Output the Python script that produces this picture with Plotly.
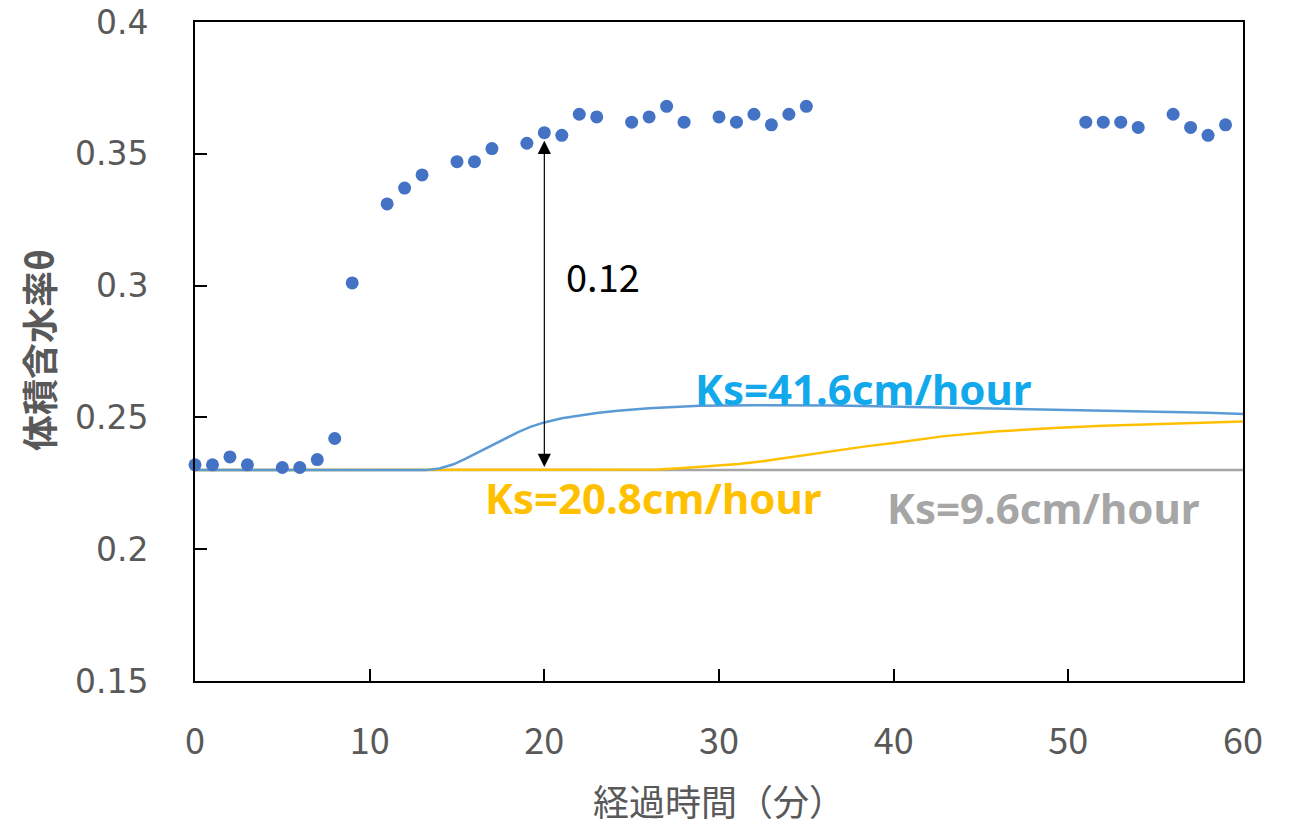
import plotly.graph_objects as go

# Measured data (volumetric water content)
obs_t = [0, 1, 2, 3, 5, 6, 7, 8, 9, 11, 12, 13, 15, 16, 17, 19, 20, 21, 22, 23,
         25, 26, 27, 28, 30, 31, 32, 33, 34, 35, 51, 52, 53, 54, 56, 57, 58, 59]
obs_v = [0.232, 0.232, 0.235, 0.232, 0.231, 0.231, 0.234, 0.242, 0.301, 0.331,
         0.337, 0.342, 0.347, 0.347, 0.352, 0.354, 0.358, 0.357, 0.365, 0.364,
         0.362, 0.364, 0.368, 0.362, 0.364, 0.362, 0.365, 0.361, 0.365, 0.368,
         0.362, 0.362, 0.362, 0.360, 0.365, 0.360, 0.357, 0.361]

# Simulated curves
ks96_t = [0, 60]
ks96_v = [0.23, 0.23]

ks208_t = [0, 25.0, 26.5, 28, 29.5, 31.1, 32.5, 34, 35.5, 36.7, 38.5, 40, 42.9,
           46, 49.2, 52, 55.4, 58, 60]
ks208_v = [0.23, 0.23, 0.2302, 0.2308, 0.2315, 0.2323, 0.2334, 0.2348, 0.2363,
           0.2376, 0.2391, 0.2403, 0.2429, 0.2447, 0.246, 0.2468, 0.2475, 0.248,
           0.2484]

ks416_t = [0, 13.2, 14.0, 14.8, 15.5, 16.2, 17, 17.8, 18.5, 19.2, 20, 21, 22,
           23, 24.2, 26, 28.9, 32, 36.7, 40, 42.9, 46, 49.2, 52, 55.4, 58, 60]
ks416_v = [0.23, 0.23, 0.2306, 0.2322, 0.2344, 0.2368, 0.2395, 0.2422, 0.2444,
           0.2464, 0.2481, 0.2497, 0.2508, 0.2517, 0.2525, 0.2535, 0.2544, 0.2546,
           0.2545, 0.2541, 0.2535, 0.2531, 0.2528, 0.2525, 0.2521, 0.2518, 0.2513]

x_ticks = [0, 10, 20, 30, 40, 50, 60]
y_ticks = [0.15, 0.2, 0.25, 0.3, 0.35, 0.4]

W, H = 1294, 825
L, R, T, B = 195, 51, 22, 144
pw, ph = W - L - R, H - T - B


def px_to_paper(px, py):
    # target-picture pixel -> paper coords
    return (px - L) / pw, (H - B - py) / ph


fig = go.Figure()
fig.add_trace(go.Scatter(x=ks96_t, y=ks96_v, mode="lines",
                         line=dict(color="#A5A5A5", width=2.5), name="Ks=9.6"))
fig.add_trace(go.Scatter(x=ks208_t, y=ks208_v, mode="lines",
                         line=dict(color="#FFC000", width=2.5), name="Ks=20.8"))
fig.add_trace(go.Scatter(x=ks416_t, y=ks416_v, mode="lines",
                         line=dict(color="#5B9BD5", width=2.5), name="Ks=41.6"))
fig.add_trace(go.Scatter(x=obs_t, y=obs_v, mode="markers",
                         marker=dict(color="#4472C4", size=13), name="obs",
                         cliponaxis=False))

# Double-headed arrow
fig.add_annotation(x=20, y=0.2312, ax=20, ay=0.3555, xref="x", yref="y",
                   axref="x", ayref="y", showarrow=True, arrowhead=2,
                   arrowside="end+start", arrowsize=2.2, arrowwidth=1.2,
                   arrowcolor="black", text="")
fig.add_annotation(x=23.35, y=0.304, xref="x", yref="y", text="0.12",
                   showarrow=False,
                   font=dict(family="Noto Sans CJK JP", size=38, color="black"))

fig.add_annotation(x=28.5, y=0.2611, xref="x", yref="y", xanchor="left",
                   text="<b>Ks=41.6cm/hour</b>", showarrow=False,
                   font=dict(family="Noto Sans", size=42, color="#12A8EC"))
fig.add_annotation(x=16.5, y=0.2198, xref="x", yref="y", xanchor="left",
                   text="<b>Ks=20.8cm/hour</b>", showarrow=False,
                   font=dict(family="Noto Sans", size=42, color="#FFC000"))
fig.add_annotation(x=39.5, y=0.216, xref="x", yref="y", xanchor="left",
                   text="<b>Ks=9.6cm/hour</b>", showarrow=False,
                   font=dict(family="Noto Sans", size=42, color="#A6A6A6"))

# Axis titles
tx, ty = px_to_paper(719, 800)
fig.add_annotation(x=tx, y=ty, xref="paper", yref="paper", xanchor="center",
                   yanchor="middle", text="経過時間（分）", showarrow=False,
                   font=dict(family="Noto Sans CJK JP", size=36, color="#595959"))
tx, ty = px_to_paper(38, 350)
fig.add_annotation(x=tx, y=ty, xref="paper", yref="paper", xanchor="center",
                   yanchor="middle", text="<b>体積含水率θ</b>", textangle=-90,
                   showarrow=False,
                   font=dict(family="Noto Sans CJK JP", size=36, color="#595959"))

fig.update_layout(
    width=W, height=H, margin=dict(l=L, r=R, t=T, b=B, autoexpand=False),
    plot_bgcolor="white", paper_bgcolor="white", showlegend=False,
    xaxis=dict(range=[0, 60], tickvals=x_ticks, showgrid=False, zeroline=False,
               showline=True, mirror=True, linecolor="black", linewidth=2,
               ticks="inside", ticklen=12, tickcolor="black", tickwidth=1.5,
               ticklabelstandoff=28, automargin=False, ticklabeloverflow="allow",
               tickfont=dict(family="Noto Sans CJK JP", size=36, color="#595959")),
    yaxis=dict(range=[0.15, 0.4], tickvals=y_ticks, showgrid=False, zeroline=False,
               showline=True, mirror=True, linecolor="black", linewidth=2,
               ticks="inside", ticklen=12, tickcolor="black", tickwidth=1.5,
               ticklabelstandoff=38, automargin=False, ticklabeloverflow="allow",
               tickfont=dict(family="DejaVu Sans", size=33, color="#595959")),
)

fig.write_html("out.html", config={"displayModeBar": False},
               post_script="document.body.style.margin='0';"
                           "document.body.style.overflow='hidden';")
